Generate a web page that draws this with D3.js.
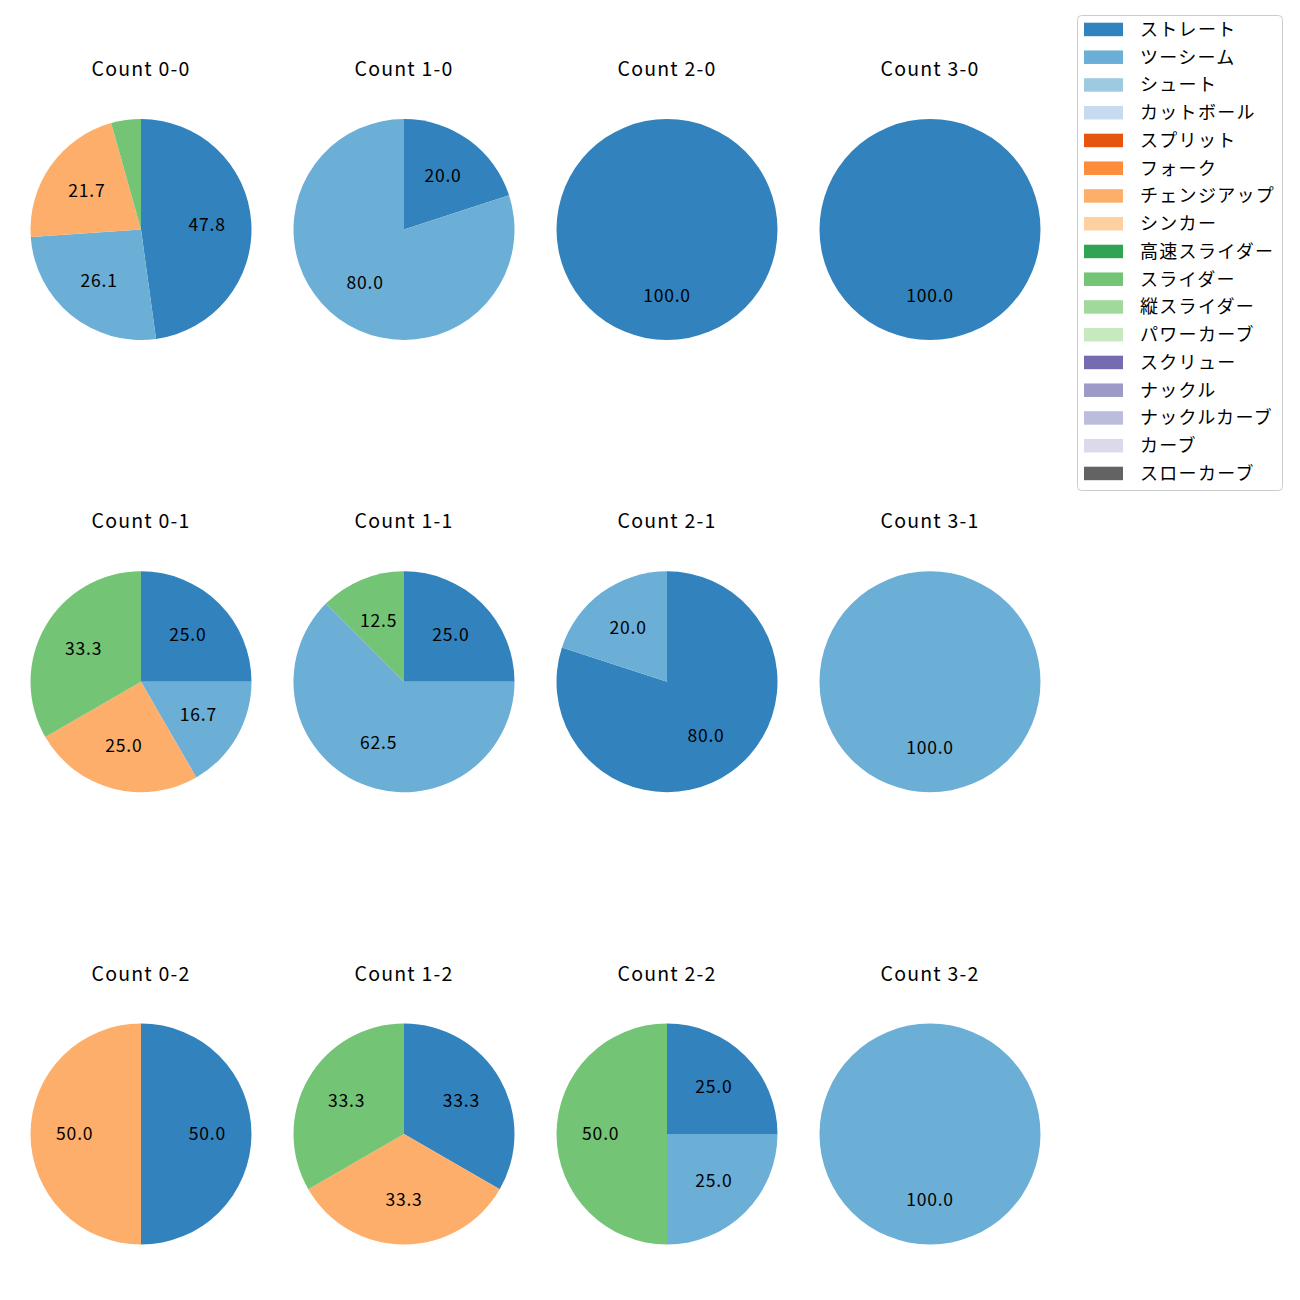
<!DOCTYPE html>
<html><head><meta charset="utf-8">
<script src="https://cdn.jsdelivr.net/npm/d3@7"></script>
<style>body{margin:0;background:#fff;} text{font-family:"Noto Sans CJK JP","Noto Sans",sans-serif;}</style>
</head><body><div id="chart"></div>
<script>
const pitchTypes = ["ストレート","ツーシーム","シュート","カットボール","スプリット","フォーク","チェンジアップ","シンカー","高速スライダー","スライダー","縦スライダー","パワーカーブ","スクリュー","ナックル","ナックルカーブ","カーブ","スローカーブ"];
const pitchColors = ["#3182bd","#6baed6","#9ecae1","#c6dbef","#e6550d","#fd8d3c","#fdae6b","#fdd0a2","#31a354","#74c476","#a1d99b","#c7e9c0","#756bb1","#9e9ac8","#bcbddc","#dadaeb","#636363"];
const countLabels = ["0-0","1-0","2-0","3-0","0-1","1-1","2-1","3-1","0-2","1-2","2-2","3-2"];
// pitch counts per count situation (same order as countLabels)
const straight = [11,1,1,1,3,2,4,0,1,1,1,0];
const twoSeam  = [6,4,0,0,2,5,1,1,0,0,1,1];
const changeup = [5,0,0,0,3,0,0,0,1,1,0,0];
const slider   = [1,0,0,0,4,1,0,0,0,1,2,0];
const seriesByType = {"ストレート":straight,"ツーシーム":twoSeam,"チェンジアップ":changeup,"スライダー":slider};

const W=1300,H=1300;
const svg=d3.select("#chart").append("svg").attr("width",W).attr("height",H);
const color=d3.scaleOrdinal().domain(pitchTypes).range(pitchColors);
const xCol=d3.scaleLinear().domain([0,3]).range([141,930]);
const yRow=d3.scaleLinear().domain([0,2]).range([229.5,1134]);
const R=110.5;
const pie=d3.pie().sort(null).value(d=>d.v);
const arc=d3.arc().innerRadius(0).outerRadius(R);
const labelArc=d3.arc().innerRadius(R*0.6).outerRadius(R*0.6);

countLabels.forEach((c,i)=>{
  const col=i%4,row=Math.floor(i/4);
  const g=svg.append("g").attr("transform",`translate(${xCol(col)},${yRow(row)})`);
  const data=pitchTypes.map(t=>({t,v:seriesByType[t]?seriesByType[t][i]:0})).filter(d=>d.v>0);
  const total=d3.sum(data,d=>d.v);
  const arcs=pie(data);
  g.selectAll("path").data(arcs).join("path").attr("d",arc).attr("fill",d=>color(d.data.t));
  g.selectAll("text.lbl").data(arcs.filter(d=>d.data.v/total*100>=5)).join("text").attr("class","lbl")
    .attr("transform",d=>`translate(${labelArc.centroid(d)})`)
    .attr("text-anchor","middle").attr("dy","0.35em").attr("font-size",17.5).attr("letter-spacing",0.8).attr("fill","#000")
    .text(d=>(d.data.v/total*100).toFixed(1));
  g.append("text").attr("x",0).attr("y",-R-43).attr("text-anchor","middle").attr("font-size",19.5).attr("letter-spacing",1.2).attr("fill","#000").text("Count "+c);
});

// legend
const lg=svg.append("g");
lg.append("rect").attr("x",1077.5).attr("y",15.5).attr("width",205).attr("height",475).attr("rx",4)
  .attr("fill","#fff").attr("stroke","#cccccc").attr("stroke-width",1);
const ly=d3.scaleLinear().domain([0,16]).range([29.5,473.5]);
pitchTypes.forEach((t,i)=>{
  lg.append("rect").attr("x",1084).attr("y",ly(i)-6.8).attr("width",39).attr("height",13.5).attr("fill",color(t));
  lg.append("text").attr("x",1140).attr("y",ly(i)).attr("dy","0.35em").attr("font-size",18).attr("letter-spacing",1.3).attr("fill","#000").text(t);
});
</script></body></html>
